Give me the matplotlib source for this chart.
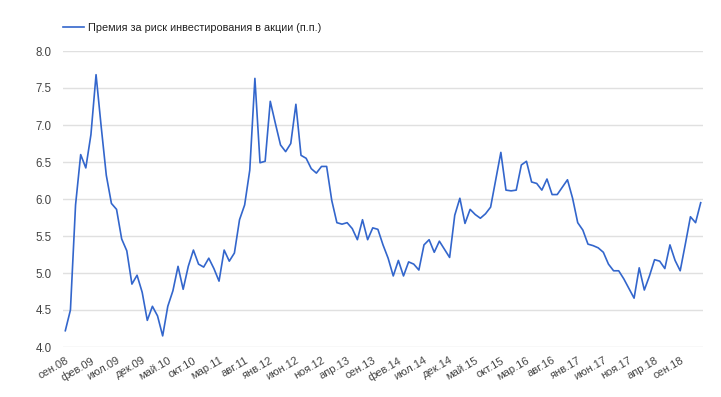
import matplotlib
matplotlib.use("Agg")
import matplotlib.pyplot as plt
import numpy as np

# monthly values, сен.08 .. янв.19
premium = [
	4.22, 4.50, 5.92, 6.60, 6.42, 6.87, 7.68, 6.98, 6.32, 5.94,
	5.86, 5.46, 5.30, 4.85, 4.97, 4.74, 4.36, 4.55, 4.42, 4.15,
	4.55, 4.76, 5.09, 4.78, 5.09, 5.31, 5.12, 5.08, 5.20, 5.06,
	4.89, 5.31, 5.16, 5.27, 5.72, 5.92, 6.39, 7.63, 6.49, 6.51,
	7.32, 7.02, 6.73, 6.64, 6.75, 7.28, 6.59, 6.55, 6.41, 6.35,
	6.44, 6.44, 5.98, 5.68, 5.66, 5.68, 5.60, 5.45, 5.72, 5.45,
	5.61, 5.59, 5.38, 5.20, 4.96, 5.17, 4.96, 5.15, 5.12, 5.04,
	5.38, 5.45, 5.28, 5.43, 5.32, 5.21, 5.78, 6.01, 5.67, 5.86,
	5.79, 5.74, 5.80, 5.89, 6.26, 6.63, 6.12, 6.11, 6.12, 6.46,
	6.51, 6.23, 6.21, 6.12, 6.27, 6.06, 6.06, 6.16, 6.26, 6.01,
	5.68, 5.58, 5.39, 5.37, 5.34, 5.28, 5.12, 5.03, 5.03, 4.92,
	4.79, 4.66, 5.07, 4.77, 4.96, 5.18, 5.16, 5.06, 5.38, 5.17,
	5.03, 5.39, 5.76, 5.68, 5.95,
]

# one label every five months
tick_labels = [
	"сен.08", "фев.09", "июл.09", "дек.09", "май.10", "окт.10",
	"мар.11", "авг.11", "янв.12", "июн.12", "ноя.12", "апр.13",
	"сен.13", "фев.14", "июл.14", "дек.14", "май.15", "окт.15",
	"мар.16", "авг.16", "янв.17", "июн.17", "ноя.17", "апр.18",
	"сен.18",
]
tick_step = 5

series_name = "Премия за риск инвестирования в акции (п.п.)"

plt.rcParams["font.family"] = ["Liberation Sans", "DejaVu Sans"]

W, H = 721, 397
fig = plt.figure(figsize=(W / 100, H / 100), dpi=100)
ax = fig.add_axes([63 / W, 1 - 347 / H, (703 - 63) / W, (347 - 51) / H])

x = np.arange(len(premium))
line, = ax.plot(x, premium, color="#3366cc", linewidth=1.2, label=series_name)

ax.set_ylim(4.0, 8.0)
ax.set_yticks(np.arange(4.0, 8.01, 0.5))
ax.set_yticklabels([f"{v:.1f}" for v in np.arange(4.0, 8.01, 0.5)])
ax.set_xlim(-0.45, len(premium) - 1 + 0.45)

ax.set_xticks(np.arange(0, len(tick_labels) * tick_step, tick_step))
ax.set_xticklabels(tick_labels, rotation=30, ha="right", va="top",
	rotation_mode="anchor")

ax.grid(axis="y", color="#e0e0e0", linewidth=1.0)
ax.set_axisbelow(True)
for s in ax.spines.values():
	s.set_visible(False)

ax.tick_params(axis="y", length=0, pad=8, labelsize=8.3, labelcolor="#444444")
ax.tick_params(axis="x", length=0, pad=6, labelsize=8, labelcolor="#444444")

ax.legend(handles=[line], loc="center left",
	bbox_to_anchor=(63 / W, 1 - 28 / H), bbox_transform=fig.transFigure,
	frameon=False, fontsize=7.8, handlelength=1.9, handletextpad=0.45,
	borderpad=0, borderaxespad=0, labelcolor="#222222")

fig.savefig("out.png", dpi=100)
